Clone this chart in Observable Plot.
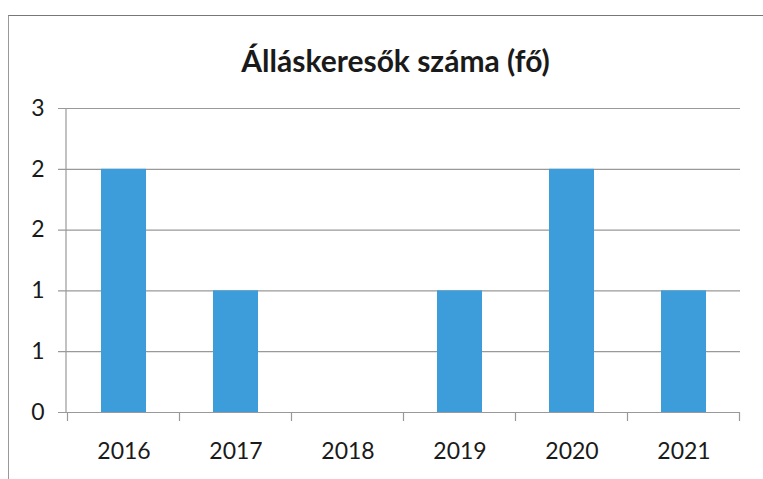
<!DOCTYPE html>
<html><head><meta charset="utf-8">
<script src="https://cdn.jsdelivr.net/npm/d3@7"></script>
<script src="https://cdn.jsdelivr.net/npm/@observablehq/plot@0.6"></script>
<style>
body{margin:0;background:#fff;font-family:Lato,"Open Sans",sans-serif;}
#frame{position:absolute;left:8px;top:15px;width:760px;height:465px;border-left:1.5px solid #999;border-top:1.5px solid #777;}
#title{position:absolute;left:14px;top:40px;width:763px;text-align:center;font-size:30px;line-height:40px;font-weight:bold;color:#1a1a1a;}
#chart{position:absolute;left:0;top:85px;}
#chart text{font-size:23px;fill:#1a1a1a;}
</style></head><body>
<div id="frame"></div>
<div id="title">Álláskeresők száma (fő)</div>
<div id="chart"></div>
<script>
const years = ["2016","2017","2018","2019","2020","2021"];
const counts = [2, 1, 0, 1, 2, 1];
const yTicks = [0, 0.5, 1, 1.5, 2, 2.5];
const yTickLabels = ["0","1","1","2","2","3"];

const data = years.map((y,i)=>({year:y, value:counts[i]}));
const gray = "#999999";

const separators = (index, scales, values, dimensions) => {
  const x = scales.x;
  const step = x.step();
  const y0 = scales.y(0);
  const g = d3.create("svg:g");
  const bounds = years.map(y => x(y) + x.bandwidth()/2 - step/2);
  bounds.push(x(years[years.length-1]) + x.bandwidth()/2 + step/2);
  for (const b of bounds) {
    g.append("line").attr("x1", b).attr("x2", b).attr("y1", y0).attr("y2", y0 + 9)
      .attr("stroke", gray).attr("stroke-width", 1.2);
  }
  return g.node();
};

const yAxisLine = (index, scales, values, d) => {
  const g = d3.create("svg:g");
  g.append("line").attr("x1", d.marginLeft).attr("x2", d.marginLeft)
    .attr("y1", scales.y(2.5)).attr("y2", scales.y(0)).attr("stroke", gray).attr("stroke-width", 1.2);
  return g.node();
};

const plot = Plot.plot({
  width: 763,
  height: 390,
  marginLeft: 66,
  marginRight: 23,
  marginTop: 23,
  marginBottom: 63,
  style: {fontFamily: "Lato, 'Open Sans', sans-serif", fontSize: "23px", color: "#1a1a1a", background: "transparent"},
  x: {domain: years, paddingInner: 0.6, paddingOuter: 0.3, label: null},
  y: {domain: [0, 2.5], label: null},
  marks: [
    Plot.ruleY(yTicks, {stroke: gray, strokeWidth: 1.2, insetLeft: -8}),
    Plot.ruleY([0], {stroke: gray, render: yAxisLine}),
    Plot.barY(data, {x: "year", y: "value", fill: "#3d9ddb"}),
    Plot.axisY({ticks: yTicks, tickFormat: (d) => yTickLabels[yTicks.indexOf(d)], tickSize: 0, tickPadding: 22}),
    Plot.axisX({tickSize: 0, tickPadding: 30}),
    Plot.ruleY([0], {stroke: gray, strokeWidth: 1.2, render: separators})
  ]
});
document.getElementById("chart").append(plot);
</script>
</body></html>
